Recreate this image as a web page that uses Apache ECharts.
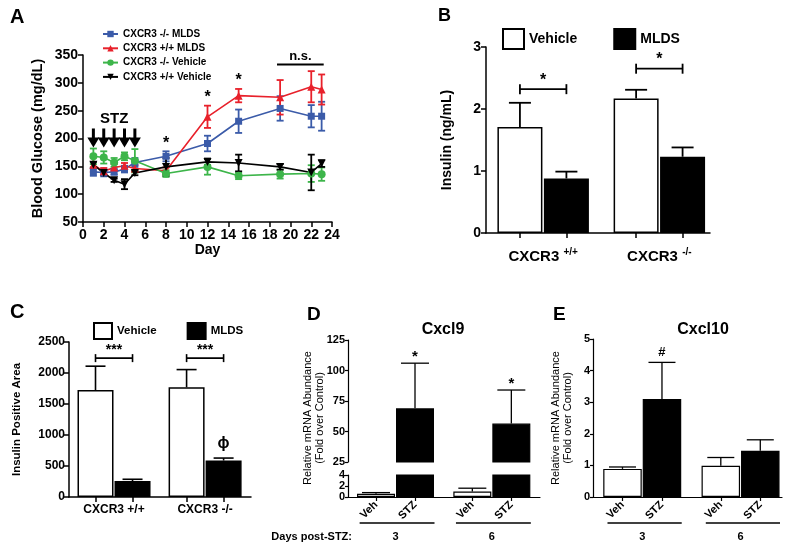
<!DOCTYPE html>
<html><head><meta charset="utf-8">
<script src="https://cdn.jsdelivr.net/npm/echarts@6/dist/echarts.min.js"></script>
<style>html,body{margin:0;padding:0;background:#fff}#c{width:800px;height:551px}</style>
</head><body><div id="c"></div>
<script>
const FONT = "'Liberation Sans', Arial, Helvetica, sans-serif";

// ===== Panel A: blood glucose time course =====
const daysA = [1, 2, 3, 4, 5, 8, 12, 15, 19, 22, 23];
const namesA = ['CXCR3 -/- MLDS', 'CXCR3 +/+ MLDS', 'CXCR3 -/- Vehicle', 'CXCR3 +/+ Vehicle'];
const glucoseKoMLDS = [140, 139, 140, 145, 157, 168, 191, 231, 254, 240, 240];
const glucoseKoMLDSErr = [7, 7, 5, 6, 8, 9, 14, 21, 22, 20, 26];
const glucoseWtMLDS = [153, 141, 148, 151, 146, 142, 239, 277, 274, 293, 288];
const glucoseWtMLDSErr = [13, 6, 6, 5, 6, 6, 20, 12, 31, 28, 27];
const glucoseKoVeh = [168, 166, 157, 168, 160, 137, 149, 133, 136, 137, 136];
const glucoseKoVehErr = [14, 11, 8, 7, 21, 6, 14, 6, 8, 15, 12];
const glucoseWtVeh = [153, 138, 125, 118, 138, 149, 158, 156, 149, 139, 155];
const glucoseWtVehErr = [5, 4, 3, 9, 4, 16, 6, 15, 5, 32, 6];
const stzDaysA = [1, 2, 3, 4, 5];
const sigDaysA = [8, 12, 15];
const nsBarA = [18.7, 23.2, 333];

// ===== Panel B: plasma insulin =====
const groupsB = ['CXCR3 +/+', 'CXCR3 -/-'];
const insulinVeh = [1.71, 2.17];
const insulinVehErr = [0.39, 0.14];
const insulinMLDS = [0.88, 1.23];
const insulinMLDSErr = [0.11, 0.15];
const sigLevelB = [2.32, 2.65];
const sigTextB = ['*', '*'];

// ===== Panel C: insulin positive area =====
const groupsC = ['CXCR3 +/+', 'CXCR3 -/-'];
const areaVeh = [1725, 1770];
const areaVehErr = [385, 285];
const areaMLDS = [258, 588];
const areaMLDSErr = [28, 40];
const sigLevelC = [2240, 2240];
const sigTextC = ['***', '***'];
const markMLDSC = ['', '\u03d5'];

// ===== Panels D/E: mRNA =====
const daysDE = ['3', '6'];
const treatDE = ['Veh', 'STZ'];
const cxcl9Veh = [0.6, 1.0];
const cxcl9VehErr = [0.2, 0.6];
const cxcl9STZ = [69, 56.5];
const cxcl9STZErr = [37, 27.5];
const sigD = ['*', '*'];
const cxcl10Veh = [0.89, 0.99];
const cxcl10VehErr = [0.06, 0.26];
const cxcl10STZ = [3.1, 1.46];
const cxcl10STZErr = [1.16, 0.35];
const sigE = ['#', ''];

// ---------- layout helpers ----------
const LB = {min: 0.27, max: 5.09, step: 2.5, bw: 45, cap: 22};
const LC = {min: 0.284, max: 5.2, step: 2.46, bw: 36, cap: 20};
const LD = {min: 0.282, max: 5.205, step: 2.47, bw: 38, cap: 28};
const LE = {min: 0.253, max: 5.04, step: 2.49, bw: 38.5, cap: 27};
const pos = (L, g, b) => 1 + g * L.step + b;
const barCenters = L => [pos(L,0,0), pos(L,0,1), pos(L,1,0), pos(L,1,1)];
const groupCenters = L => [pos(L,0,0.5), pos(L,1,0.5)];
const nearestIdx = (arr, v) => { let bi = 0; arr.forEach((a, i) => { if (Math.abs(a - v) < Math.abs(arr[bi] - v)) bi = i; }); return bi; };

const BLACK = '#000';
const vehStyle = {color: '#fff', borderColor: BLACK, borderWidth: 1.5};
const mldsStyle = {color: BLACK, borderColor: BLACK, borderWidth: 1.5};

function errorBarRender(capW, color, lw, twoSided) {
  return function (params, api) {
    const x = api.value(0), m = api.value(1), e = api.value(2);
    const hi = api.coord([x, m + e]);
    const lo = api.coord([x, twoSided ? m - e : m]);
    const st = {stroke: color, lineWidth: lw};
    const ch = [
      {type: 'line', shape: {x1: hi[0], y1: hi[1], x2: lo[0], y2: lo[1]}, style: st},
      {type: 'line', shape: {x1: hi[0] - capW / 2, y1: hi[1], x2: hi[0] + capW / 2, y2: hi[1]}, style: st}
    ];
    if (twoSided) ch.push({type: 'line', shape: {x1: lo[0] - capW / 2, y1: lo[1], x2: lo[0] + capW / 2, y2: lo[1]}, style: st});
    return {type: 'group', children: ch};
  };
}
function textAboveRender(texts, font, gap) {
  return function (params, api) {
    const p = api.coord([api.value(0), api.value(1)]);
    return {type: 'text', x: p[0], y: p[1] - gap,
      style: {text: texts[params.dataIndex], fill: BLACK, font: font, align: 'center', verticalAlign: 'bottom'}};
  };
}
function bracketRender(texts, font, tickH, lw) {
  return function (params, api) {
    const p1 = api.coord([api.value(0), api.value(2)]);
    const p2 = api.coord([api.value(1), api.value(2)]);
    const st = {stroke: BLACK, lineWidth: lw};
    return {type: 'group', children: [
      {type: 'line', shape: {x1: p1[0], y1: p1[1], x2: p2[0], y2: p2[1]}, style: st},
      {type: 'line', shape: {x1: p1[0], y1: p1[1] - tickH, x2: p1[0], y2: p1[1] + tickH}, style: st},
      {type: 'line', shape: {x1: p2[0], y1: p2[1] - tickH, x2: p2[0], y2: p2[1] + tickH}, style: st},
      {type: 'text', x: (p1[0] + p2[0]) / 2, y: p1[1] - 1,
        style: {text: texts[params.dataIndex], fill: BLACK, font: font, align: 'center', verticalAlign: 'bottom'}}
    ]};
  };
}
function underlineRender(dy) {
  return function (params, api) {
    const p1 = api.coord([api.value(0), 0]);
    const p2 = api.coord([api.value(1), 0]);
    return {type: 'line', shape: {x1: p1[0], y1: p1[1] + dy, x2: p2[0], y2: p2[1] + dy}, style: {stroke: BLACK, lineWidth: 1.3}};
  };
}

function yAx(grid, min, max, interval, fs, extra) {
  return Object.assign({
    type: 'value', gridIndex: grid, min: min, max: max, interval: interval,
    axisLine: {show: true, onZero: false, lineStyle: {color: BLACK, width: 1.5}},
    axisTick: {show: true, length: 5, lineStyle: {color: BLACK, width: 1.5}},
    axisLabel: {color: BLACK, fontSize: fs, fontWeight: 'bold', fontFamily: FONT, margin: 5, formatter: v => String(v)},
    splitLine: {show: false}
  }, extra || {});
}
function xBarAx(grid, L, lw, tickLen, labelCfg, extra) {
  return Object.assign({
    type: 'value', gridIndex: grid, min: L.min, max: L.max,
    axisLine: {show: true, onZero: false, lineStyle: {color: BLACK, width: lw}},
    axisTick: {show: true, length: tickLen, customValues: barCenters(L), lineStyle: {color: BLACK, width: lw}},
    axisLabel: labelCfg,
    splitLine: {show: false}
  }, extra || {});
}

const yNameStyle = (fs, w) => ({color: BLACK, fontSize: fs, fontWeight: w, fontFamily: FONT});
const plain = v => String(v);

const option = {
  animation: false,
  backgroundColor: '#fff',
  textStyle: {fontFamily: FONT},
  grid: [
    {left: 83, top: 55, width: 249, height: 167},
    {left: 486, top: 47, width: 224, height: 186},
    {left: 69, top: 342, width: 182, height: 155},
    {left: 348, top: 340, width: 192, height: 122},
    {left: 348, top: 475, width: 192, height: 22},
    {left: 593, top: 339, width: 189, height: 158}
  ],
  xAxis: [
    {type: 'value', gridIndex: 0, min: 0, max: 24, interval: 2,
      axisLine: {show: true, onZero: false, lineStyle: {color: BLACK, width: 1.5}},
      axisTick: {show: true, length: 5, lineStyle: {color: BLACK, width: 1.5}},
      axisLabel: {color: BLACK, fontSize: 14, fontWeight: 'bold', fontFamily: FONT, margin: 6, formatter: plain},
      splitLine: {show: false},
      name: 'Day', nameLocation: 'middle', nameGap: 20, nameTextStyle: yNameStyle(14, 'bold')},
    xBarAx(1, LB, 1.5, 5, {customValues: groupCenters(LB), margin: 14, color: BLACK,
      formatter: v => { const s = groupsB[nearestIdx(groupCenters(LB), v)].split(' '); return '{n|' + s[0] + ' }{s|' + s[1] + '}'; },
      rich: {n: {fontSize: 15, fontWeight: 'bold', fontFamily: FONT, color: BLACK},
             s: {fontSize: 10, fontWeight: 'bold', fontFamily: FONT, color: BLACK, padding: [0, 0, 10, 0]}}}),
    xBarAx(2, LC, 1.5, 5, {customValues: groupCenters(LC), margin: 7, color: BLACK, fontSize: 12, fontWeight: 'bold', fontFamily: FONT,
      formatter: v => groupsC[nearestIdx(groupCenters(LC), v)]}),
    {type: 'value', gridIndex: 3, min: LD.min, max: LD.max, show: false},
    xBarAx(4, LD, 1.2, 4, {customValues: barCenters(LD), margin: 6, rotate: 45, color: BLACK, fontSize: 11, fontWeight: 'bold', fontFamily: FONT,
      formatter: v => treatDE[nearestIdx(barCenters(LD), v) % 2]}),
    {type: 'value', gridIndex: 4, min: LD.min, max: LD.max, position: 'bottom', offset: 0,
      axisLine: {show: false}, axisTick: {show: false}, splitLine: {show: false},
      axisLabel: {customValues: groupCenters(LD), margin: 34, color: BLACK, fontSize: 11, fontWeight: 'bold', fontFamily: FONT,
        formatter: v => daysDE[nearestIdx(groupCenters(LD), v)]}},
    xBarAx(5, LE, 1.2, 4, {customValues: barCenters(LE), margin: 6, rotate: 45, color: BLACK, fontSize: 11, fontWeight: 'bold', fontFamily: FONT,
      formatter: v => treatDE[nearestIdx(barCenters(LE), v) % 2]}),
    {type: 'value', gridIndex: 5, min: LE.min, max: LE.max, position: 'bottom', offset: 0,
      axisLine: {show: false}, axisTick: {show: false}, splitLine: {show: false},
      axisLabel: {customValues: groupCenters(LE), margin: 34, color: BLACK, fontSize: 11, fontWeight: 'bold', fontFamily: FONT,
        formatter: v => daysDE[nearestIdx(groupCenters(LE), v)]}}
  ],
  yAxis: [
    yAx(0, 50, 350, 50, 14, {name: 'Blood Glucose (mg/dL)', nameLocation: 'middle', nameGap: 38, nameTextStyle: yNameStyle(14.5, 'bold')}),
    yAx(1, 0, 3, 1, 14, {name: 'Insulin (ng/mL)', nameLocation: 'middle', nameGap: 32, nameTextStyle: yNameStyle(14, 'bold')}),
    yAx(2, 0, 2500, 500, 12, {name: 'Insulin Positive Area', nameLocation: 'middle', nameGap: 46, nameTextStyle: yNameStyle(11.5, 'bold'),
      axisLabel: {color: BLACK, fontSize: 12, fontWeight: 'bold', fontFamily: FONT, margin: 4, formatter: plain}}),
    yAx(3, 25, 125, 25, 11, {axisLine: {show: true, onZero: false, lineStyle: {color: BLACK, width: 1.2}},
      axisTick: {show: true, length: 3, lineStyle: {color: BLACK, width: 1.2}},
      axisLabel: {color: BLACK, fontSize: 11, fontWeight: 'bold', fontFamily: FONT, margin: 3, formatter: plain}}),
    yAx(4, 0, 4, 2, 11, {axisLine: {show: true, onZero: false, lineStyle: {color: BLACK, width: 1.2}},
      axisTick: {show: true, length: 3, lineStyle: {color: BLACK, width: 1.2}},
      axisLabel: {color: BLACK, fontSize: 11, fontWeight: 'bold', fontFamily: FONT, margin: 3, formatter: plain}}),
    yAx(5, 0, 5, 1, 11, {axisLine: {show: true, onZero: false, lineStyle: {color: BLACK, width: 1.2}},
      axisTick: {show: true, length: 3, lineStyle: {color: BLACK, width: 1.2}},
      axisLabel: {color: BLACK, fontSize: 11, fontWeight: 'bold', fontFamily: FONT, margin: 3, formatter: plain},
      name: 'Relative mRNA Abundance\n(Fold over Control)', nameLocation: 'middle', nameGap: 19,
      nameTextStyle: {color: BLACK, fontSize: 11, fontFamily: FONT, lineHeight: 12}})
  ],
  legend: [
    {data: namesA, orient: 'vertical', left: 97, top: 23, itemWidth: 15, itemHeight: 8, itemGap: 2.3,
      textStyle: {color: BLACK, fontSize: 10, fontWeight: 'bold', fontFamily: FONT, lineHeight: 12}},
    {data: ['Vehicle', 'MLDS'], orient: 'horizontal', left: 497, top: 23, itemWidth: 21, itemHeight: 20, itemGap: 36, icon: 'rect',
      textStyle: {color: BLACK, fontSize: 14, fontWeight: 'bold', fontFamily: FONT}},
    {data: ['Vehicle', 'MLDS'], orient: 'horizontal', left: 88, top: 317, itemWidth: 18, itemHeight: 16, itemGap: 30, icon: 'rect',
      textStyle: {color: BLACK, fontSize: 11.5, fontWeight: 'bold', fontFamily: FONT}}
  ],
  series: [],
  graphic: {elements: [
    {type: 'text', x: 10, y: 7, style: {text: 'A', font: 'bold 20px ' + FONT, fill: BLACK}},
    {type: 'text', x: 438, y: 7, style: {text: 'B', font: 'bold 18px ' + FONT, fill: BLACK}},
    {type: 'text', x: 10, y: 302, style: {text: 'C', font: 'bold 20px ' + FONT, fill: BLACK}},
    {type: 'text', x: 307, y: 305, style: {text: 'D', font: 'bold 19px ' + FONT, fill: BLACK}},
    {type: 'text', x: 553, y: 305, style: {text: 'E', font: 'bold 19px ' + FONT, fill: BLACK}},
    {type: 'text', x: 443, y: 330, style: {text: 'Cxcl9', font: 'bold 16px ' + FONT, fill: BLACK, align: 'center', verticalAlign: 'middle'}},
    {type: 'text', x: 703, y: 330, style: {text: 'Cxcl10', font: 'bold 16px ' + FONT, fill: BLACK, align: 'center', verticalAlign: 'middle'}},
    {type: 'text', x: 314, y: 418, rotation: Math.PI / 2,
      style: {text: 'Relative mRNA Abundance\n(Fold over Control)', font: '11px ' + FONT, lineHeight: 12, fill: BLACK, align: 'center', verticalAlign: 'middle'}},
    {type: 'text', x: 352, y: 537, style: {text: 'Days post-STZ:', font: 'bold 11px ' + FONT, fill: BLACK, align: 'right', verticalAlign: 'middle'}}
  ]}
};

const S = option.series;
// ---- Panel A series ----
const colorsA = ['#3b5ba9', '#e8212b', '#3db54a', '#000000'];
const symbolsA = ['rect', 'triangle', 'circle', 'triangle'];
const rotA = [0, 0, 0, 180];
const meansA = [glucoseKoMLDS, glucoseWtMLDS, glucoseKoVeh, glucoseWtVeh];
const errsA = [glucoseKoMLDSErr, glucoseWtMLDSErr, glucoseKoVehErr, glucoseWtVehErr];
meansA.forEach((m, i) => {
  S.push({type: 'custom', name: namesA[i] + ' err', xAxisIndex: 0, yAxisIndex: 0, z: 3,
    renderItem: errorBarRender(7, colorsA[i], 1.8, true),
    data: daysA.map((d, k) => [d, m[k], errsA[i][k]])});
});
meansA.forEach((m, i) => {
  S.push({type: 'line', name: namesA[i], xAxisIndex: 0, yAxisIndex: 0, z: 4,
    symbol: symbolsA[i], symbolRotate: rotA[i], symbolSize: i === 0 ? 7 : 8,
    color: colorsA[i], lineStyle: {color: colorsA[i], width: 1.6}, itemStyle: {color: colorsA[i]},
    data: daysA.map((d, k) => [d, m[k]])});
});
// significance stars above highest error bar
S.push({type: 'custom', xAxisIndex: 0, yAxisIndex: 0, z: 5,
  renderItem: textAboveRender(sigDaysA.map(() => '*'), 'bold 16px ' + FONT, 0),
  data: sigDaysA.map(d => { const k = daysA.indexOf(d); return [d, Math.max(...meansA.map((m, i) => m[k] + errsA[i][k]))]; })});
// n.s. bar
S.push({type: 'custom', xAxisIndex: 0, yAxisIndex: 0, z: 5,
  renderItem: function (params, api) {
    const p1 = api.coord([api.value(0), api.value(2)]), p2 = api.coord([api.value(1), api.value(2)]);
    return {type: 'group', children: [
      {type: 'line', shape: {x1: p1[0], y1: p1[1], x2: p2[0], y2: p2[1]}, style: {stroke: BLACK, lineWidth: 2}},
      {type: 'text', x: (p1[0] + p2[0]) / 2, y: p1[1] - 2, style: {text: 'n.s.', font: 'bold 13px ' + FONT, fill: BLACK, align: 'center', verticalAlign: 'bottom'}}
    ]};
  },
  data: [nsBarA]});
// STZ injection arrows
const midStz = stzDaysA[Math.floor(stzDaysA.length / 2)];
S.push({type: 'custom', xAxisIndex: 0, yAxisIndex: 0, z: 5,
  renderItem: function (params, api) {
    const d = api.value(0);
    const top = api.coord([d, 218]), tip = api.coord([d, 184]);
    const ch = [
      {type: 'line', shape: {x1: top[0], y1: top[1], x2: tip[0], y2: tip[1] - 8}, style: {stroke: BLACK, lineWidth: 3}},
      {type: 'polygon', shape: {points: [[tip[0] - 6, tip[1] - 10], [tip[0] + 6, tip[1] - 10], [tip[0], tip[1]]]}, style: {fill: BLACK}}
    ];
    if (d === midStz) ch.push({type: 'text', x: top[0], y: top[1] - 2,
      style: {text: 'STZ', font: 'bold 15px ' + FONT, fill: BLACK, align: 'center', verticalAlign: 'bottom'}});
    return {type: 'group', children: ch};
  },
  data: stzDaysA.map(d => [d, 200])});

// ---- generic bar panel ----
function barPanel(L, xi, yi, names, veh, trt, styles) {
  S.push({type: 'bar', name: names[0], xAxisIndex: xi, yAxisIndex: yi, barWidth: L.bw, barGap: '-100%', clip: true,
    itemStyle: styles[0], data: veh.map((v, g) => [pos(L, g, 0), v])});
  S.push({type: 'bar', name: names[1], xAxisIndex: xi, yAxisIndex: yi, barWidth: L.bw, barGap: '-100%', clip: true,
    itemStyle: styles[1], data: trt.map((v, g) => [pos(L, g, 1), v])});
}
function errPanel(L, xi, yi, b, vals, errs, lw) {
  S.push({type: 'custom', xAxisIndex: xi, yAxisIndex: yi, z: 1,
    renderItem: errorBarRender(L.cap, BLACK, lw, false),
    data: vals.map((v, g) => [pos(L, g, b), v, errs[g]]).filter(r => r[1] !== '-')});
}

// Panel B
barPanel(LB, 1, 1, ['Vehicle', 'MLDS'], insulinVeh, insulinMLDS, [vehStyle, mldsStyle]);
errPanel(LB, 1, 1, 0, insulinVeh, insulinVehErr, 1.8);
errPanel(LB, 1, 1, 1, insulinMLDS, insulinMLDSErr, 1.8);
S.push({type: 'custom', xAxisIndex: 1, yAxisIndex: 1, renderItem: bracketRender(sigTextB, 'bold 16px ' + FONT, 5, 1.8),
  data: sigLevelB.map((y, g) => [pos(LB, g, 0), pos(LB, g, 1), y])});

// Panel C
barPanel(LC, 2, 2, ['Vehicle', 'MLDS'], areaVeh, areaMLDS, [vehStyle, mldsStyle]);
errPanel(LC, 2, 2, 0, areaVeh, areaVehErr, 1.6);
errPanel(LC, 2, 2, 1, areaMLDS, areaMLDSErr, 1.6);
S.push({type: 'custom', xAxisIndex: 2, yAxisIndex: 2, renderItem: bracketRender(sigTextC, 'bold 14px ' + FONT, 4, 1.6),
  data: sigLevelC.map((y, g) => [pos(LC, g, 0), pos(LC, g, 1), y])});
S.push({type: 'custom', xAxisIndex: 2, yAxisIndex: 2, renderItem: textAboveRender(markMLDSC, 'bold 16px ' + FONT, 6),
  data: areaMLDS.map((v, g) => [pos(LC, g, 1), v + areaMLDSErr[g]])});

// Panel D (broken axis)
const dStyleV = {color: '#fff', borderColor: BLACK, borderWidth: 1.2};
const dStyleS = {color: BLACK, borderColor: BLACK, borderWidth: 1.2};
const brk = 25;
barPanel(LD, 3, 3, ['Veh9', 'STZ9'], cxcl9Veh.map(v => v >= brk ? v : '-'), cxcl9STZ, [dStyleV, dStyleS]);
barPanel(LD, 4, 4, ['Veh9', 'STZ9'], cxcl9Veh, cxcl9STZ, [dStyleV, dStyleS]);
errPanel(LD, 4, 4, 0, cxcl9Veh, cxcl9VehErr, 1.3);
errPanel(LD, 3, 3, 1, cxcl9STZ, cxcl9STZErr, 1.3);
S.push({type: 'custom', xAxisIndex: 3, yAxisIndex: 3, renderItem: textAboveRender(sigD, 'bold 15px ' + FONT, -1),
  data: cxcl9STZ.map((v, g) => [pos(LD, g, 1), v + cxcl9STZErr[g]])});
S.push({type: 'custom', xAxisIndex: 4, yAxisIndex: 4, renderItem: underlineRender(26),
  data: daysDE.map((d, g) => [pos(LD, g, 0) - 0.42, pos(LD, g, 1) + 0.5])});

// Panel E
barPanel(LE, 6, 5, ['Veh10', 'STZ10'], cxcl10Veh, cxcl10STZ, [dStyleV, dStyleS]);
errPanel(LE, 6, 5, 0, cxcl10Veh, cxcl10VehErr, 1.3);
errPanel(LE, 6, 5, 1, cxcl10STZ, cxcl10STZErr, 1.3);
S.push({type: 'custom', xAxisIndex: 6, yAxisIndex: 5, renderItem: textAboveRender(sigE, 'bold 13px ' + FONT, 3),
  data: cxcl10STZ.map((v, g) => [pos(LE, g, 1), v + cxcl10STZErr[g]])});
S.push({type: 'custom', xAxisIndex: 6, yAxisIndex: 5, renderItem: underlineRender(26),
  data: daysDE.map((d, g) => [pos(LE, g, 0) - 0.38, pos(LE, g, 1) + 0.5])});

const chart = echarts.init(document.getElementById('c'));
chart.setOption(option);
</script>
</body></html>
